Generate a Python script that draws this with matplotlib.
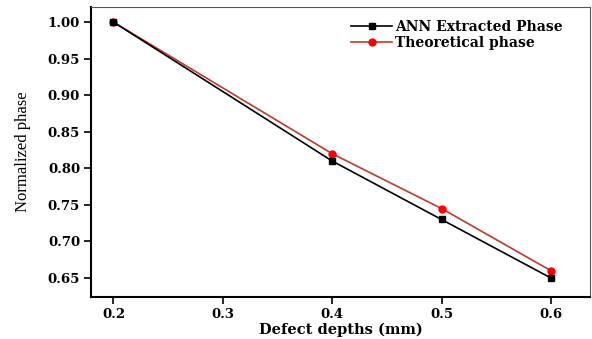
import matplotlib as mpl
import matplotlib.pyplot as plt

mpl.rcParams.update(
    {
        "font.family": ["DejaVu Serif"],
        "font.weight": "bold",
        "font.size": 9,
    }
)

depths = [0.2, 0.4, 0.5, 0.6]
ann_phase = [1.00, 0.81, 0.73, 0.65]
theory_phase = [1.00, 0.82, 0.745, 0.66]

fig = plt.figure(figsize=(5.92, 3.39), dpi=100)
ax = fig.add_axes([0.154, 0.124, 0.843, 0.855])

ax.plot(depths, theory_phase, color="#c0392b", lw=1.2, marker="o", ms=5,
        mfc="#ff0000", mec="#ff0000", label="Theoretical phase", zorder=2)
ax.plot(depths, ann_phase, color="black", lw=1.2, marker="s", ms=4.5,
        mfc="black", mec="black", label="ANN Extracted Phase", zorder=3)

ax.set_xlim(0.1796, 0.636)
ax.set_ylim(0.624, 1.0205)
ax.set_xticks([0.2, 0.3, 0.4, 0.5, 0.6])
ax.set_yticks([0.65, 0.70, 0.75, 0.80, 0.85, 0.90, 0.95, 1.00])
ax.xaxis.set_major_formatter(mpl.ticker.FormatStrFormatter("%.1f"))
ax.yaxis.set_major_formatter(mpl.ticker.FormatStrFormatter("%.2f"))
ax.tick_params(direction="out", length=5, width=1.2, labelsize=9.5, pad=3)
for lab in ax.get_xticklabels() + ax.get_yticklabels():
    lab.set_fontweight("bold")

for side in ["left", "bottom"]:
    ax.spines[side].set_linewidth(1.5)
    ax.spines[side].set_color("black")
for side in ["top", "right"]:
    ax.spines[side].set_linewidth(0.8)
    ax.spines[side].set_color("#555555")

ax.set_xlabel("Defect depths (mm)", fontsize=10.5, fontweight="bold", labelpad=1)
ax.set_ylabel("Normalized phase", fontsize=12, fontweight="normal",
              family="Liberation Serif", labelpad=12)

handles, labels = ax.get_legend_handles_labels()
ax.legend(handles[::-1], labels[::-1], loc="upper right", bbox_to_anchor=(0.97, 1.0),
          frameon=False, handlelength=3.0, borderaxespad=0.5, handletextpad=0.2,
          labelspacing=0.15, prop={"family": "DejaVu Serif", "weight": "bold", "size": 10})

fig.savefig("out.png", dpi=100)
